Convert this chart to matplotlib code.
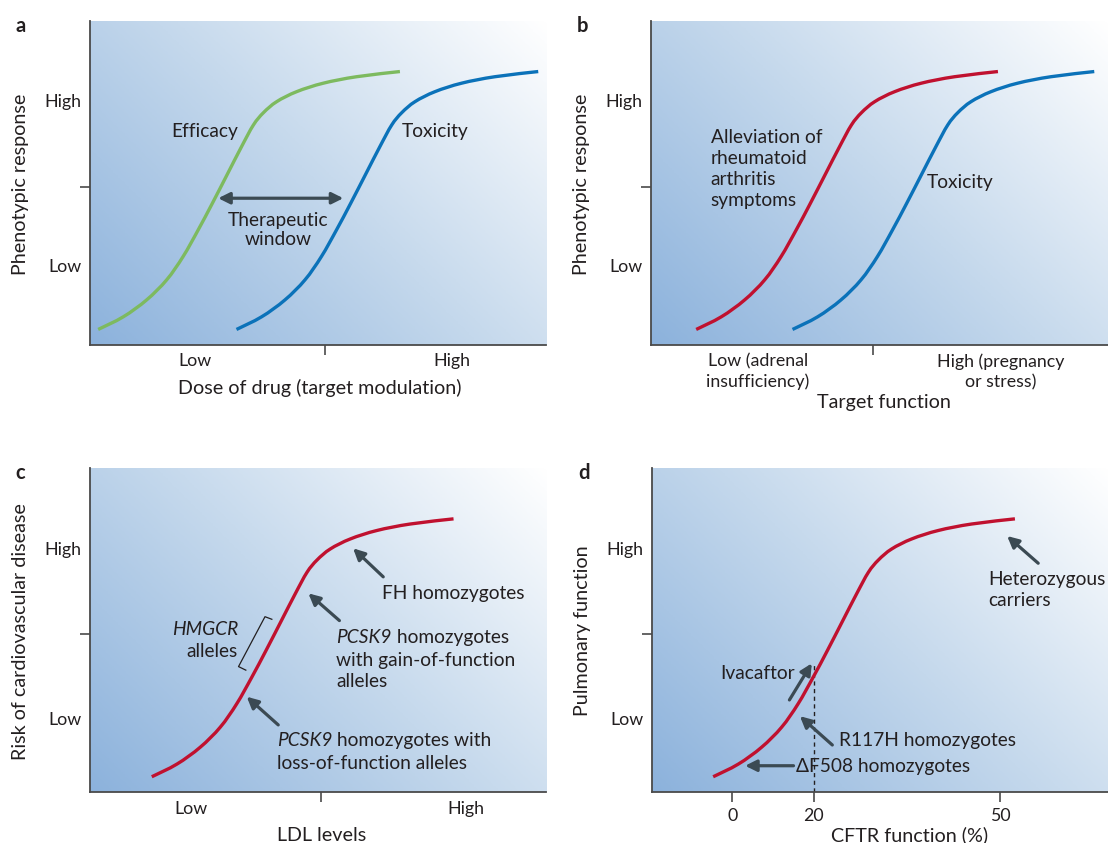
import numpy as np
import matplotlib
matplotlib.use("Agg")
import matplotlib.pyplot as plt
from matplotlib.colors import LinearSegmentedColormap
from matplotlib.path import Path
from matplotlib.patches import PathPatch

plt.rcParams['font.family'] = ['Lato', 'DejaVu Sans']
plt.rcParams['font.size'] = 13.8

# ---------------------------------------------------------------- data (schematic units 0-100 on each axis)
# shared vertical shape of all the sigmoid curves
curve_y = [4.8, 8.7, 13.9, 20.1, 27.3, 35.5, 43.7, 53.0, 61.2, 67.9, 71.7, 75.1, 78.2, 80.8, 82.8, 84.4]

# panel a
efficacy_x = [1.9, 7.4, 12.5, 16.9, 20.5, 23.8, 26.9, 30.3, 33.3, 35.9, 38.1, 41.0, 45.4, 51.2, 58.5, 68.0]
toxicity_a_x = [32.2, 37.7, 42.8, 47.2, 50.8, 54.1, 57.2, 60.6, 63.6, 66.2, 68.4, 71.3, 75.7, 81.5, 88.8, 98.3]
# panel b
alleviation_x = [9.9, 15.4, 20.5, 24.9, 28.5, 31.8, 34.9, 38.3, 41.3, 43.9, 46.1, 49.0, 53.4, 59.2, 66.5, 76.0]
toxicity_b_x = [31.0, 36.5, 41.6, 46.0, 49.6, 52.9, 56.0, 59.4, 62.4, 65.0, 67.2, 70.1, 74.5, 80.3, 87.6, 97.1]
# panel c
ldl_x = [13.6, 19.1, 24.2, 28.6, 32.2, 35.5, 38.6, 42.0, 45.0, 47.6, 49.8, 52.7, 57.1, 62.9, 70.2, 79.7]
# panel d
cftr_x = [13.4, 18.9, 24.0, 28.4, 32.0, 35.3, 38.4, 41.8, 44.8, 47.4, 49.6, 52.5, 56.9, 62.7, 70.0, 79.5]

# tick positions / labels
ab_ytick_pos = [24.4, 75.6]
cd_ytick_pos = [22.8, 75.3]
ytick_labels = ['Low', 'High']
mid_ytick = 48.9
a_xtick_pos, a_xmid = [23.1, 79.4], 51.6
b_xtick_pos, b_xmid = [23.4, 76.5], 48.6
b_xtick_labels = ['Low (adrenal\ninsufficiency)', 'High (pregnancy\nor stress)']
c_xtick_pos, c_xmid = [22.1, 82.4], 50.6
d_xtick_pos = [17.6, 35.4, 76.2]
d_xtick_labels = ['0', '20', '50']
d_dash_top = 39.8

# colours
GREEN = '#7dba5f'
BLUE = '#0b72b9'
RED = '#c0112f'
ARROW = '#3b4a53'
TXT = '#231f20'
SPINE = '#4a4a4a'
TICK_FS = 12.8
LABEL_FS = 14.2

W, H = 1108, 843
fig = plt.figure(figsize=(W / 100, H / 100), dpi=100)

# panel boxes in pixels: left, top, width, height
boxes = {'a': (89.5, 21, 456.5, 324), 'b': (651, 21, 456.5, 324),
         'c': (89.7, 468.3, 456.5, 324), 'd': (652, 468.3, 456.5, 324)}

bg_cmap = LinearSegmentedColormap.from_list('bg', ['#8cb2dc', '#c4d8ec', '#ffffff'])


def make_axes(key):
    l, t, w, h = boxes[key]
    ax = fig.add_axes([l / W, 1 - (t + h) / H, w / W, h / H])
    # diagonal gradient in pixel space
    xx, yy = np.meshgrid(np.linspace(0, w, 200), np.linspace(0, h, 200))
    grad = (xx + yy) / (w + h)
    ax.imshow(grad, extent=(0, 100, 0, 100), origin='lower', aspect='auto',
              cmap=bg_cmap, vmin=0, vmax=1, zorder=0, interpolation='bilinear')
    ax.set_xlim(0, 100)
    ax.set_ylim(0, 100)
    for s in ['top', 'right']:
        ax.spines[s].set_visible(False)
    for s in ['left', 'bottom']:
        ax.spines[s].set_color(SPINE)
        ax.spines[s].set_linewidth(1.3)
    ax.tick_params(which='both', color=SPINE, labelcolor=TXT, labelsize=TICK_FS)
    fig.text((l - 74) / W, 1 - (t + 5) / H, key, fontsize=14.5, fontweight='bold',
             color=TXT, ha='left', va='center')
    return ax


def curve(ax, xs, ys, color):
    # smooth line through the read points (Catmull-Rom as cubic Bezier segments)
    pts = np.column_stack([xs, ys])
    verts, codes = [pts[0]], [Path.MOVETO]
    n = len(pts)
    for i in range(n - 1):
        p0 = pts[max(i - 1, 0)]
        p1, p2 = pts[i], pts[i + 1]
        p3 = pts[min(i + 2, n - 1)]
        verts += [p1 + (p2 - p0) / 6, p2 - (p3 - p1) / 6, p2]
        codes += [Path.CURVE4] * 3
    ax.add_patch(PathPatch(Path(verts, codes), fill=False, ec=color, lw=2.4,
                           capstyle='butt', zorder=3))


def set_ticks(ax, xpos, xlabels, xmid, ypos):
    ax.set_yticks(ypos, labels=ytick_labels)
    ax.set_yticks([mid_ytick], minor=True)
    ax.tick_params(axis='y', which='major', length=0, pad=6)
    ax.tick_params(axis='y', which='minor', length=7, width=1.2)
    ax.set_xticks(xpos, labels=xlabels)
    if xmid is not None:
        ax.set_xticks([xmid], minor=True)
    ax.tick_params(axis='x', which='major', length=0, pad=6)
    ax.tick_params(axis='x', which='minor', length=7, width=1.2)


def ylab(ax, text, y=0.495):
    ax.text(-0.152, y, text, transform=ax.transAxes, rotation=90, ha='center',
            va='center', color=TXT, fontsize=LABEL_FS)


def xlab(ax, text, x, y):
    ax.text(x, y, text, transform=ax.transAxes, ha='center', va='center',
            color=TXT, fontsize=LABEL_FS)


def arrow(ax, head, tail, style='-|>'):
    ax.annotate('', xy=head, xytext=tail,
                arrowprops=dict(arrowstyle=style, color=ARROW, lw=2.3,
                                mutation_scale=17, shrinkA=0, shrinkB=0))


def italic_lead(ax, x, y, lead, rest):
    t = ax.text(x, y, lead, ha='left', va='center', color=TXT, style='italic')
    ax.annotate(rest, xy=(1, 0), xycoords=t, ha='left', va='bottom', color=TXT)


# ---------------------------------------------------------------- a
ax = make_axes('a')
curve(ax, efficacy_x, curve_y, GREEN)
curve(ax, toxicity_a_x, curve_y, BLUE)
set_ticks(ax, a_xtick_pos, ytick_labels, a_xmid, ab_ytick_pos)
arrow(ax, (55.6, 45.3), (28.2, 45.3), style='<|-|>')
ax.text(41.4, 35.5, 'Therapeutic\nwindow', ha='center', va='center', color=TXT,
        linespacing=1.2)
ax.text(25.3, 65.8, 'Efficacy', ha='center', va='center', color=TXT)
ax.text(68.4, 65.8, 'Toxicity', ha='left', va='center', color=TXT)
ylab(ax, 'Phenotypic response')
xlab(ax, 'Dose of drug (target modulation)', 0.505, -0.133)

# ---------------------------------------------------------------- b
ax = make_axes('b')
curve(ax, alleviation_x, curve_y, RED)
curve(ax, toxicity_b_x, curve_y, BLUE)
set_ticks(ax, b_xtick_pos, b_xtick_labels, b_xmid, ab_ytick_pos)
for lbl in ax.get_xticklabels():
    lbl.set_linespacing(1.3)
ax.text(13.1, 54.3, 'Alleviation of\nrheumatoid\narthritis\nsymptoms', ha='left',
        va='center', color=TXT, linespacing=1.3)
ax.text(60.5, 50.1, 'Toxicity', ha='left', va='center', color=TXT)
ylab(ax, 'Phenotypic response')
xlab(ax, 'Target function', 0.511, -0.176)

# ---------------------------------------------------------------- c
ax = make_axes('c')
curve(ax, ldl_x, curve_y, RED)
set_ticks(ax, c_xtick_pos, ytick_labels, c_xmid, cd_ytick_pos)
arrow(ax, (57.7, 75.3), (64.3, 66.5))
ax.text(64.0, 61.4, 'FH homozygotes', ha='left', va='center', color=TXT)
arrow(ax, (47.9, 61.4), (54.7, 53.0))
italic_lead(ax, 54.0, 47.8, 'PCSK9', ' homozygotes')
ax.text(54.0, 40.8, 'with gain-of-function', ha='left', va='center', color=TXT)
ax.text(54.0, 34.1, 'alleles', ha='left', va='center', color=TXT)
arrow(ax, (34.4, 29.5), (41.3, 20.8))
italic_lead(ax, 41.0, 16.1, 'PCSK9', ' homozygotes with')
ax.text(41.0, 9.0, 'loss-of-function alleles', ha='left', va='center', color=TXT)
bracket_x = [39.9, 38.4, 32.6, 34.2]
bracket_y = [53.4, 54.2, 38.8, 37.7]
ax.plot(bracket_x, bracket_y, color=TXT, lw=0.9)
ax.text(32.6, 50.1, 'HMGCR', ha='right', va='center', color=TXT, style='italic')
ax.text(32.4, 43.4, 'alleles', ha='right', va='center', color=TXT)
ylab(ax, 'Risk of cardiovascular disease', 0.496)
xlab(ax, 'LDL levels', 0.507, -0.132)

# ---------------------------------------------------------------- d
ax = make_axes('d')
curve(ax, cftr_x, curve_y, RED)
ax.set_yticks(cd_ytick_pos, labels=ytick_labels)
ax.set_yticks([mid_ytick], minor=True)
ax.tick_params(axis='y', which='major', length=0, pad=6)
ax.tick_params(axis='y', which='minor', length=7, width=1.2)
ax.set_xticks(d_xtick_pos, labels=d_xtick_labels)
ax.tick_params(axis='x', which='major', length=7, width=1.2, pad=4)
ax.plot([d_xtick_pos[1], d_xtick_pos[1]], [0, d_dash_top], color=TXT, lw=1.0,
        ls=(0, (3, 2.5)), zorder=2)
arrow(ax, (35.0, 39.8), (30.1, 28.5))
ax.text(31.3, 36.7, 'Ivacaftor', ha='right', va='center', color=TXT)
arrow(ax, (32.4, 23.5), (39.5, 14.6))
ax.text(41.0, 15.9, 'R117H homozygotes', ha='left', va='center', color=TXT)
arrow(ax, (20.4, 8.2), (31.0, 8.2))
ax.text(31.5, 7.9, '\u0394F508 homozygotes', ha='left', va='center', color=TXT)
arrow(ax, (77.8, 79.1), (84.6, 70.7))
ax.text(73.6, 62.4, 'Heterozygous\ncarriers', ha='left', va='center', color=TXT,
        linespacing=1.25)
ylab(ax, 'Pulmonary function', 0.498)
xlab(ax, 'CFTR function (%)', 0.564, -0.132)

fig.savefig('out.png', dpi=100)
